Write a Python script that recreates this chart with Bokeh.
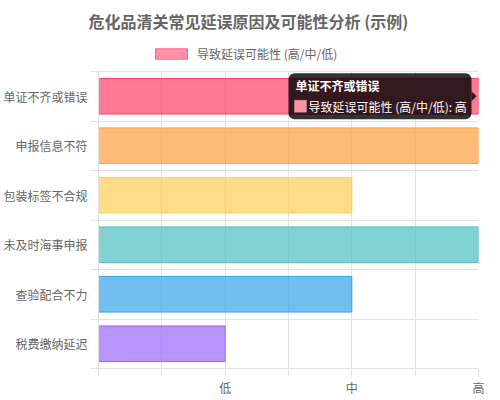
from bokeh.plotting import figure
from bokeh.models import (Range1d, FixedTicker, ColumnDataSource, Legend, LegendItem,
                          BoxAnnotation, Label)
from bokeh.embed import file_html
from bokeh.resources import INLINE

# ---- data ----
categories = ["单证不齐或错误", "申报信息不符", "包装标签不合规", "未及时海事申报", "查验配合不力", "税费缴纳延迟"]
values = [3, 3, 2, 3, 2, 1]
level_ticks = [1, 2, 3]
level_labels = ["低", "中", "高"]
series_name = "导致延误可能性 (高/中/低)"
title_text = "危化品清关常见延误原因及可能性分析 (示例)"
hovered_index = 0

fill_colors = ["#FF4066", "#FF9F40", "#FFCD56", "#4BC0C0", "#36A2EB", "#9966FF"]
line_colors = ["#FF4066", "#FF9F40", "#FFCD56", "#4BC0C0", "#36A2EB", "#9966FF"]

FONT = "Noto Sans CJK SC"
TXT = "#666666"
GRID = "#e2e2e2"

FW, FH_DATA, EXTRA = 380, 297, 33      # frame width, data-area height, legend strip (px)
BL, BR, BT = 96, 8, 28
XMAX = 3
n = len(categories)
sx, sy = FW / XMAX, FH_DATA / n  # px per data unit
FH = FH_DATA + EXTRA

ypos = [n - i - 0.5 for i in range(n)]
source = ColumnDataSource(dict(y=ypos, right=values, fill=fill_colors, line=line_colors))

p = figure(frame_width=FW, frame_height=FH, output_backend="svg", toolbar_location=None,
           x_range=Range1d(0, XMAX), y_range=Range1d(0, n + EXTRA / sy),
           min_border_left=BL, min_border_right=BR, min_border_top=BT, min_border_bottom=0)
p.outline_line_color = None
p.background_fill_color = "white"
p.border_fill_color = "white"

p.hbar(y="y", left=0, right="right", height=0.72, source=source,
       fill_color="fill", fill_alpha=0.7, line_color="line", line_width=1)

# legend swatch (dataset colour); hidden renderer, shown only in the legend
dummy = p.hbar(y=ypos[:1], left=0, right=values[:1], height=0.72, fill_color="#FF6384",
               fill_alpha=0.7, line_color="#FF6384", line_width=1)
dummy.visible = False
legend = Legend(items=[LegendItem(label=series_name, renderers=[dummy])],
                location=(53, FH - (45 + 6.5 - BT)), orientation="horizontal",
                glyph_width=40, glyph_height=13, label_standoff=6,
                label_text_font=FONT, label_text_font_size="12px", label_text_color=TXT,
                border_line_color=None, background_fill_alpha=0, padding=0, margin=0,
                inactive_fill_alpha=0)
p.add_layout(legend)

# title
p.title.text = title_text
p.title.text_font = FONT
p.title.text_font_size = "16px"
p.title.text_font_style = "bold"
p.title.text_color = TXT
p.title.align = "left"
p.title.offset = -10
p.title.standoff = 12

# x axis
xt = [i * 0.5 for i in range(2 * XMAX + 1)]
overrides = {t: "" for t in xt}
for t, l in zip(level_ticks, level_labels):
    overrides[t] = l
p.xaxis.ticker = FixedTicker(ticks=xt)
p.xaxis.major_label_overrides = overrides
p.xaxis.major_tick_in = 0
p.xaxis.major_tick_out = 8
p.xaxis.major_tick_line_color = GRID
p.xaxis.minor_tick_line_color = None
p.xaxis.axis_line_color = GRID
p.xaxis.major_label_text_font = FONT
p.xaxis.major_label_text_font_size = "12px"
p.xaxis.major_label_text_color = TXT
p.xaxis.major_label_standoff = 2
p.xgrid.ticker = FixedTicker(ticks=xt)
p.xgrid.grid_line_color = GRID
try:
    p.xgrid.cross_bounds = (0, n)
except Exception:
    p.xgrid.visible = False
    p.segment(x0=xt, x1=xt, y0=0, y1=n, line_color=GRID, line_width=1)

# y axis
bounds = list(range(n + 1))
p.yaxis.bounds = (0, n)
p.yaxis.ticker = FixedTicker(ticks=ypos, minor_ticks=bounds)
p.yaxis.major_label_overrides = {y: c for y, c in zip(ypos, categories)}
p.yaxis.major_tick_line_color = None
p.yaxis.major_tick_in = 0
p.yaxis.major_tick_out = 8
p.yaxis.minor_tick_in = 0
p.yaxis.minor_tick_out = 8
p.yaxis.minor_tick_line_color = GRID
p.yaxis.axis_line_color = GRID
p.yaxis.major_label_text_font = FONT
p.yaxis.major_label_text_font_size = "12px"
p.yaxis.major_label_text_color = TXT
p.yaxis.major_label_standoff = 3
p.ygrid.ticker = FixedTicker(ticks=bounds)
p.ygrid.grid_line_color = GRID

# tooltip for hovered bar
ax, ay = values[hovered_index], ypos[hovered_index]
tip = BoxAnnotation(left=ax - 190 / sx, right=ax - 7 / sx, top=ay + 23 / sy, bottom=ay - 23 / sy,
                    fill_color="black", fill_alpha=0.8, line_color=None, border_radius=6)
p.add_layout(tip)
p.patch([ax - 7 / sx, ax - 2 / sx, ax - 7 / sx], [ay + 5 / sy, ay, ay - 5 / sy],
        fill_color="black", fill_alpha=0.8, line_color=None)
swatch = BoxAnnotation(left=ax - 184 / sx, right=ax - 172 / sx, top=ay - 4 / sy, bottom=ay - 16 / sy,
                       fill_color="#FF92A8", fill_alpha=1, line_color="#FFC0CC", line_width=1)
p.add_layout(swatch)
p.add_layout(Label(x=ax, y=ay, x_offset=-183, y_offset=11, text=categories[hovered_index],
                   text_font=FONT, text_font_size="12px", text_font_style="bold",
                   text_color="white", text_baseline="middle", text_align="left"))
p.add_layout(Label(x=ax, y=ay, x_offset=-170, y_offset=-10,
                   text=series_name + ": " + level_labels[level_ticks.index(values[hovered_index])],
                   text_font=FONT, text_font_size="12px",
                   text_color="white", text_baseline="middle", text_align="left"))

open("out.html", "w").write(file_html(p, INLINE))
